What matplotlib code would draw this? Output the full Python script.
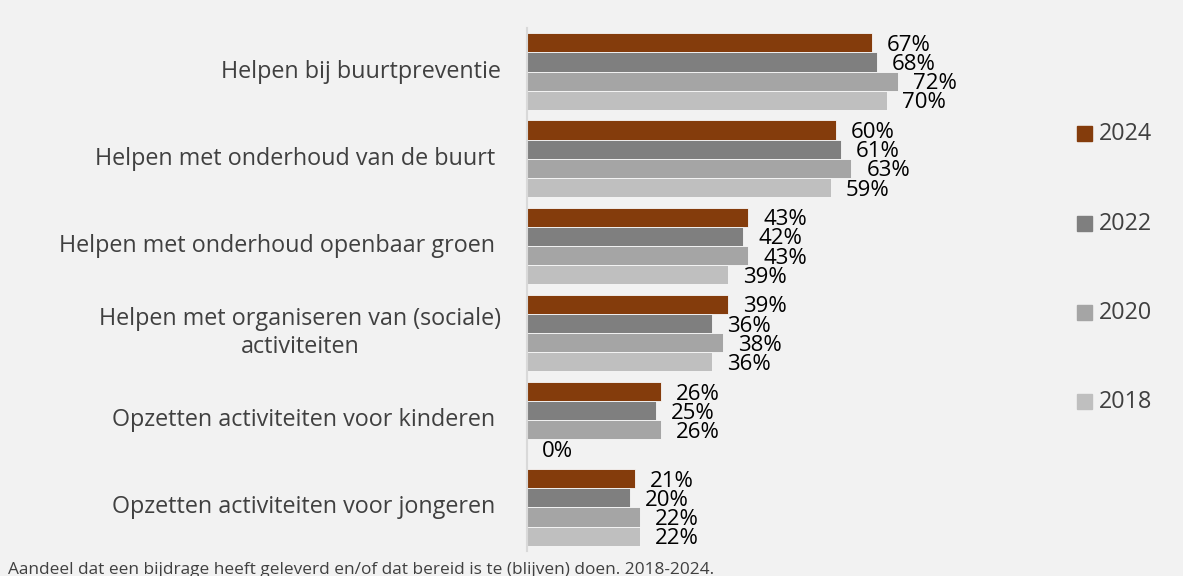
import numpy as np
import matplotlib.pyplot as plt

categories = [
    "Helpen bij buurtpreventie",
    "Helpen met onderhoud van de buurt ",
    "Helpen met onderhoud openbaar groen ",
    "Helpen met organiseren van (sociale)\nactiviteiten",
    "Opzetten activiteiten voor kinderen ",
    "Opzetten activiteiten voor jongeren ",
]
years = ["2024", "2022", "2020", "2018"]
values_2024 = [67, 60, 43, 39, 26, 21]
values_2022 = [68, 61, 42, 36, 25, 20]
values_2020 = [72, 63, 43, 38, 26, 22]
values_2018 = [70, 59, 39, 36, 0, 22]
colors = ["#843C0C", "#7F7F7F", "#A5A5A5", "#BFBFBF"]

bg = "#F2F2F2"
text_col = "#404040"
font = "Open Sans"

fig = plt.figure(figsize=(11.83, 5.76), dpi=100, facecolor=bg)
ax = fig.add_axes([527 / 1183, 1 - 551 / 576, 463.5 / 1183, 523 / 576])
ax.set_facecolor(bg)

series = [values_2024, values_2022, values_2020, values_2018]
y = np.arange(len(categories))
h = 0.22
for i, (vals, c) in enumerate(zip(series, colors)):
    pos = y - 1.5 * h + i * h
    ax.barh(pos, vals, height=h, color=c, edgecolor="#F8F8F8", linewidth=0.6,
            label=years[i])
    for p, v in zip(pos, vals):
        ax.text(v + 2.9, p + 0.03, f"{v}%", va="center", ha="left",
                fontsize=16, color="black", family=font)

ax.set_xlim(0, 90)
ax.set_ylim(len(categories) - 0.5, -0.5)
ax.set_xticks([])
ax.set_yticks([])
for s in ["top", "right", "bottom"]:
    ax.spines[s].set_visible(False)
ax.spines["left"].set_color("#D9D9D9")
ax.spines["left"].set_linewidth(1.5)

# category labels, right-aligned block with centred lines
for yi, cat in zip(y, categories):
    ax.annotate(cat, xy=(0, yi), xycoords=("axes fraction", "data"),
                xytext=(-26, 0), textcoords="offset pixels",
                ha="right", va="center", multialignment="center",
                fontsize=16.8, color=text_col, family=font, linespacing=1.2)

# legend
leg_y = [134, 224, 313, 402]
for yr, c, py in zip(years, colors, leg_y):
    fig.patches.append(plt.Rectangle((1077 / 1183, 1 - (py + 7) / 576), 15 / 1183, 15 / 576,
                                     transform=fig.transFigure, color=c))
    fig.text(1099 / 1183, 1 - py / 576, yr, ha="left", va="center",
             fontsize=16.8, color=text_col, family=font)

fig.text(8 / 1183, 1 - 570 / 576,
         "Aandeel dat een bijdrage heeft geleverd en/of dat bereid is te (blijven) doen. 2018-2024.",
         ha="left", va="center", fontsize=12.4, color=text_col, family=font)

fig.savefig("out.png", dpi=100, facecolor=bg)
